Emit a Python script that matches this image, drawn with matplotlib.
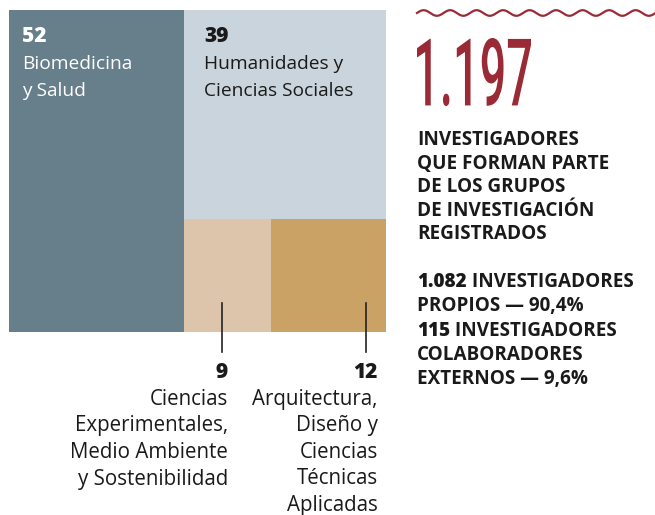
import matplotlib
matplotlib.use("Agg")
import matplotlib.pyplot as plt
import numpy as np
from matplotlib.patches import Rectangle, PathPatch
from matplotlib.textpath import TextPath
from matplotlib.font_manager import FontProperties
from matplotlib.transforms import Affine2D

# datos
valores = [52, 39, 9, 12]
areas = ["Biomedicina\ny Salud",
         "Humanidades y\nCiencias Sociales",
         "Ciencias\nExperimentales,\nMedio Ambiente\ny Sostenibilidad",
         "Arquitectura,\nDiseño y\nCiencias\nTécnicas\nAplicadas"]
colores = ["#677e8b", "#c9d4dc", "#dcc5aa", "#cba266"]
total = "1.197"
descripcion = ["INVESTIGADORES", "QUE FORMAN PARTE", "DE LOS GRUPOS",
               "DE INVESTIGACIÓN", "REGISTRADOS"]
desglose = [("1.082", " INVESTIGADORES"), ("", "PROPIOS — 90,4%"),
            ("115", " INVESTIGADORES"), ("", "COLABORADORES"),
            ("", "EXTERNOS — 9,6%")]

ROJO = "#9a2b36"
NEGRO = "#1a1a1a"
FUENTE = "Open Sans"

fig = plt.figure(figsize=(6.55, 5.15), dpi=100)
ax = fig.add_axes([0, 0, 1, 1])
ax.set_xlim(0, 655)
ax.set_ylim(515, 0)
ax.axis("off")

# treemap
x0, x1, y0, y1 = 9, 386, 10, 332
W, H = x1 - x0, y1 - y0
wl = W * valores[0] / sum(valores)
resto = sum(valores[1:])
ht = H * valores[1] / resto
wb = (W - wl) * valores[2] / (valores[2] + valores[3])
rects = [(x0, y0, wl, H),
         (x0 + wl, y0, W - wl, ht),
         (x0 + wl, y0 + ht, wb, H - ht),
         (x0 + wl + wb, y0 + ht, W - wl - wb, H - ht)]
for (rx, ry, rw, rh), c in zip(rects, colores):
    ax.add_patch(Rectangle((rx, ry), rw, rh, facecolor=c, edgecolor="none"))

def etiqueta(x, y, num, texto, color, size, ha="left"):
    ax.text(x, y, str(num), fontsize=15, fontweight="heavy", color=color,
            ha=ha, va="baseline", family=FUENTE)
    for i, linea in enumerate(texto.split("\n")):
        ax.text(x, y + 27 + i * 26.5, linea, fontsize=size, color=color,
                ha=ha, va="baseline", family=FUENTE)

etiqueta(rects[0][0] + 13, 42, valores[0], areas[0], "white", 13.8)
etiqueta(rects[1][0] + 20, 42, valores[1], areas[1], NEGRO, 13.8)

# etiquetas de abajo con lineas guia
for r, v, t, dx, off in [(rects[2], valores[2], areas[2], 38, 6),
                         (rects[3], valores[3], areas[3], 95, 12)]:
    lx = r[0] + dx
    ax.plot([lx, lx], [303, 352], color="#222222", lw=1.2)
    etiqueta(lx + off, 378, v, t, NEGRO, 14.8, ha="right")

# linea ondulada
xs = np.linspace(417, 655, 600)
ax.plot(xs, 13 - 2.8 * np.sin((xs - 417) / 26.5 * 2 * np.pi), color=ROJO, lw=1.6)

# numero grande
fp = FontProperties(family="Roboto", weight="medium")
tp = TextPath((0, 0), total, size=100, prop=fp)
bb = tp.get_extents()
tr = (Affine2D().translate(-bb.x0, -bb.y0)
      .scale(114 / bb.width, -68 / bb.height).translate(417, 106))
ax.add_patch(PathPatch(tr.transform_path(tp), facecolor=ROJO, edgecolor="none"))

# textos de la derecha
TAM = 13.6
for i, linea in enumerate(descripcion):
    ax.text(417, 145 + i * 23.6, linea, fontsize=TAM, fontweight="bold",
            color=NEGRO, va="baseline", family=FUENTE)

fig.canvas.draw()
for i, (num, resto_txt) in enumerate(desglose):
    y = 287 + i * 24.3
    x = 417
    if num:
        t = ax.text(x, y, num, fontsize=TAM, fontweight="heavy",
                    color=NEGRO, va="baseline", family=FUENTE)
        bbx = t.get_window_extent(renderer=fig.canvas.get_renderer())
        x = 417 + bbx.width
    ax.text(x, y, resto_txt, fontsize=TAM, fontweight="bold",
            color=NEGRO, va="baseline", family=FUENTE)

fig.savefig("out.png", dpi=100)
